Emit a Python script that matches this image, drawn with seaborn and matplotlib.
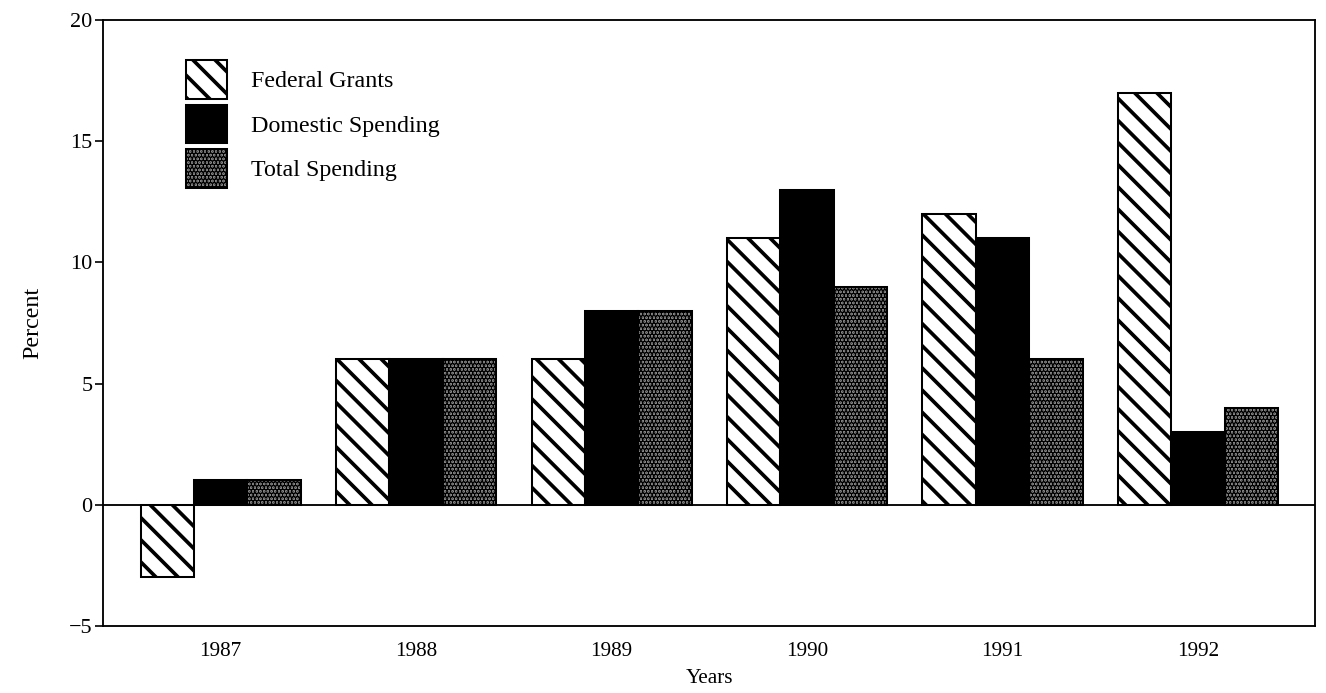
import pandas as pd
import matplotlib
matplotlib.use("Agg")
import matplotlib.pyplot as plt
from matplotlib.patches import Patch
import seaborn as sns

years = ["1987", "1988", "1989", "1990", "1991", "1992"]
federal_grants = [-3, 6, 6, 11, 12, 17]
domestic_spending = [1, 6, 8, 13, 11, 3]
total_spending = [1, 6, 8, 9, 6, 4]
series = ["Federal Grants", "Domestic Spending", "Total Spending"]

df = pd.DataFrame({
    "year": years * 3,
    "value": federal_grants + domestic_spending + total_spending,
    "series": [series[0]] * 6 + [series[1]] * 6 + [series[2]] * 6,
})

# higher dpi so the hatch lines are spaced like the scan
DPI = 133.33

sns.set_theme(style="white")
plt.rcParams["font.family"] = ["Liberation Serif", "DejaVu Serif"]
plt.rcParams["text.color"] = "black"
plt.rcParams["axes.labelcolor"] = "black"
plt.rcParams["xtick.color"] = "black"
plt.rcParams["ytick.color"] = "black"
plt.rcParams["hatch.linewidth"] = 2.0

fig, ax = plt.subplots(figsize=(1326 / DPI, 693 / DPI), dpi=DPI)
fig.subplots_adjust(left=0.078, right=0.992, top=0.971, bottom=0.097)

sns.barplot(data=df, x="year", y="value", hue="series", hue_order=series,
            palette=["white", "black", "#8c8c8c"], width=0.82, ax=ax,
            legend=False, saturation=1, errorbar=None)

styles = [("white", "\\\\"), ("black", None), ("#8c8c8c", "......")]
for cont, (fc, hatch) in zip(ax.containers, styles):
    for bar in cont:
        bar.set_facecolor(fc)
        bar.set_edgecolor("black")
        bar.set_linewidth(1.1)
        if hatch:
            bar.set_hatch(hatch)

ax.axhline(0, color="black", lw=1.0)
ax.set_ylim(-5, 20)
ax.set_xlim(-0.6, 5.6)
ax.set_yticks([-5, 0, 5, 10, 15, 20])
ax.set_yticklabels(["\u22125", "0", "5", "10", "15", "20"])
ax.tick_params(axis="y", left=True, length=4.5, width=0.9, labelsize=12, pad=1.5)
ax.tick_params(axis="x", bottom=False, labelsize=11.5, pad=3)
for s in ax.spines.values():
    s.set_color("black")
    s.set_linewidth(1.0)

ax.set_xlabel("Years", fontsize=11.5, labelpad=4)
ax.set_ylabel("Percent", fontsize=13, labelpad=14)

handles = [Patch(facecolor=fc, edgecolor="black", hatch=h, linewidth=1.1)
           for fc, h in styles]
ax.legend(handles, series, loc="upper left", bbox_to_anchor=(0.05, 0.97),
          frameon=False, fontsize=13, handlelength=1.7, handleheight=2.1,
          labelspacing=0.25, handletextpad=1.0)

fig.savefig("out.png", dpi=DPI)
